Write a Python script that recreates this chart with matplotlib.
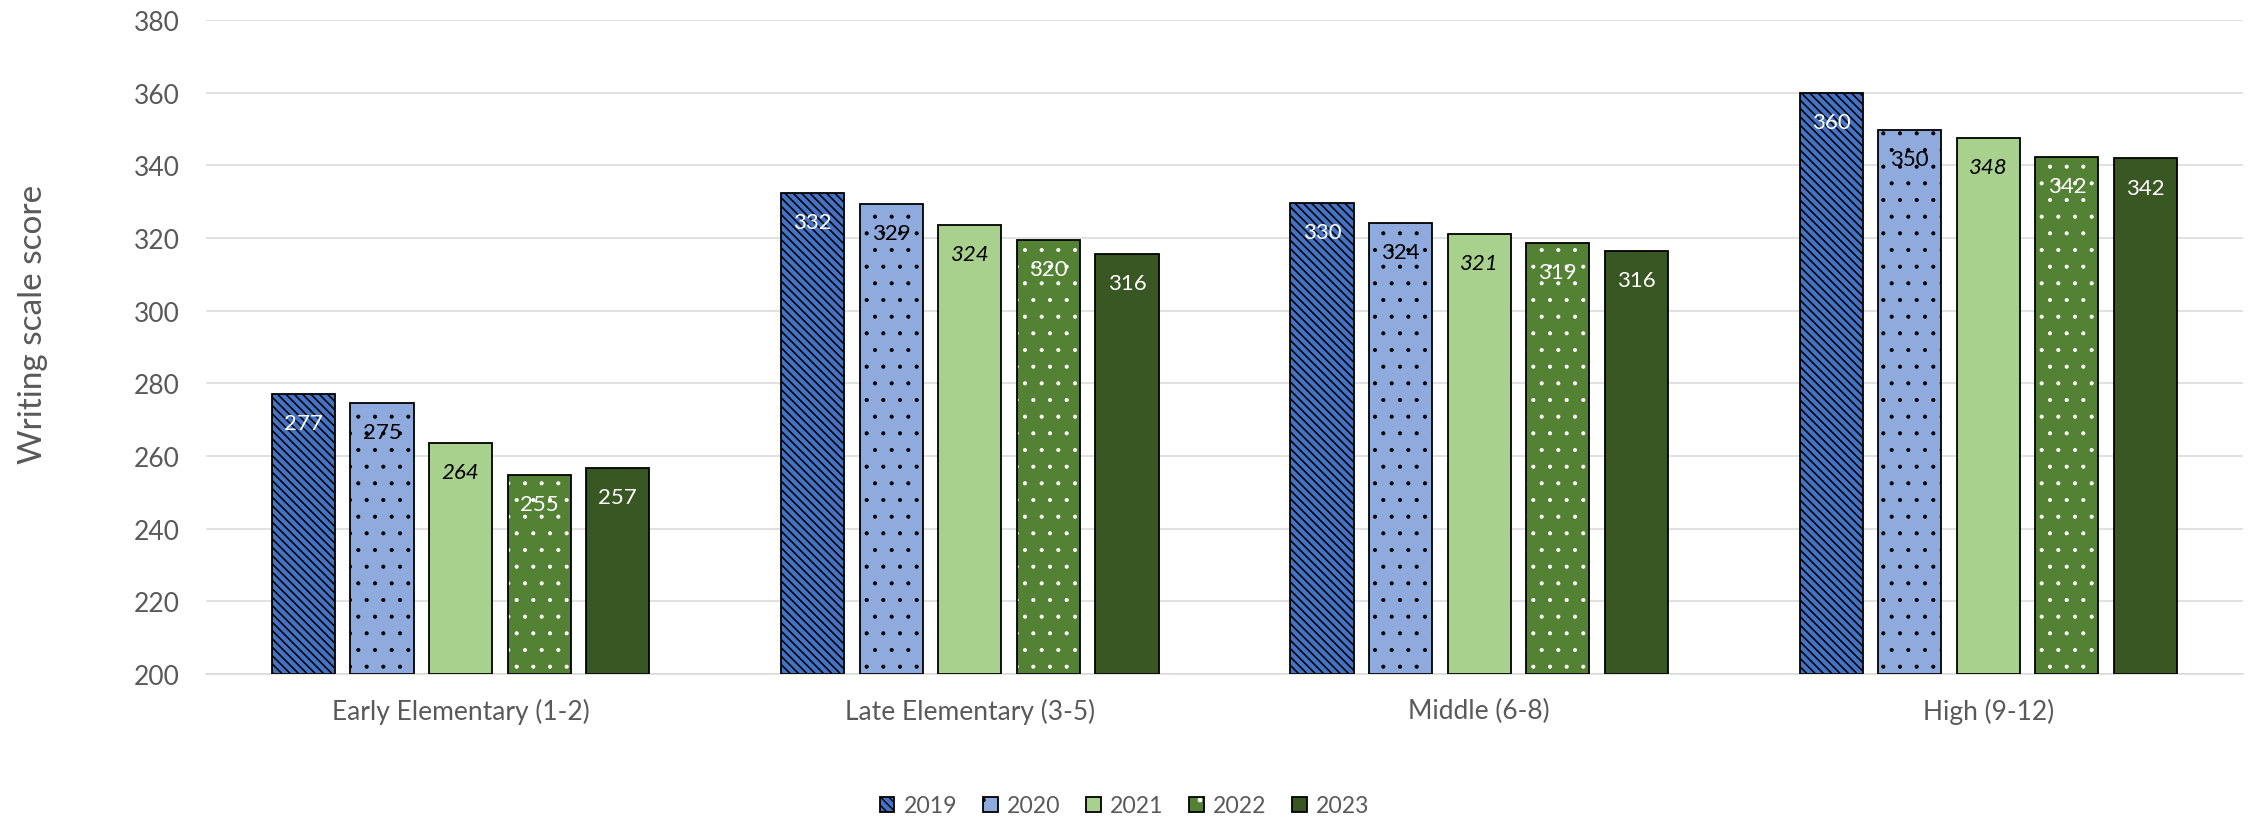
import matplotlib

matplotlib.use("Agg")
import matplotlib.pyplot as plt
from matplotlib.legend_handler import HandlerTuple
from matplotlib.patches import Patch
import numpy as np

plt.rcParams["font.family"] = ["Lato", "DejaVu Sans"]

GRADE_BANDS = [
    "Early Elementary (1-2)",
    "Late Elementary (3-5)",
    "Middle (6-8)",
    "High (9-12)",
]
YEARS = ["2019", "2020", "2021", "2022", "2023"]

# mean writing scale score per grade band, one list per year
SCORES = {
    "2019": [277.2, 332.3, 329.6, 360.0],
    "2020": [274.7, 329.4, 324.2, 349.7],
    "2021": [263.6, 323.7, 321.1, 347.6],
    "2022": [254.8, 319.5, 318.6, 342.3],
    "2023": [256.7, 315.6, 316.4, 341.9],
}

FILL = {
    "2019": "#4472C4",
    "2020": "#8FAADC",
    "2021": "#A9D18E",
    "2022": "#548235",
    "2023": "#385723",
}
HATCH = {"2019": "\\\\\\\\", "2020": ".", "2021": None, "2022": ".", "2023": None}
HATCH_COLOR = {"2019": "black", "2020": "black", "2022": "white"}
# stripes are drawn heavy, dots light
HATCH_LW = {"2019": 1.15, "2020": 0.5, "2022": 0.5}
LABEL_COLOR = {"2019": "white", "2020": "black", "2021": "black", "2022": "white", "2023": "white"}
LABEL_STYLE = {"2021": "italic"}

TEXT = "#595959"
GRID = "#D9D9D9"
EDGE = "black"

fig = plt.figure(figsize=(22.49, 8.2), dpi=100)
ax = fig.add_axes([0.0916, 0.1768, 0.9057, 0.7976])

x = np.arange(len(GRADE_BANDS))
width = 0.124
pitch = 0.1543

handles = []
for i, yr in enumerate(YEARS):
    xs = x + (i - 2) * pitch
    vals = SCORES[yr]
    hatch = HATCH[yr]
    hc = HATCH_COLOR.get(yr, EDGE)
    with plt.rc_context({"hatch.linewidth": HATCH_LW.get(yr, 1.0)}):
        # fill + hatch first (hatch takes the edge colour), then a black outline on top
        ax.bar(xs, np.array(vals) - 200, bottom=200, width=width, color=FILL[yr],
               hatch=hatch, edgecolor=hc, linewidth=0, zorder=2)
        inner = Patch(facecolor=FILL[yr], hatch=hatch, edgecolor=hc, linewidth=0)
    ax.bar(xs, np.array(vals) - 200, bottom=200, width=width, fill=False,
           edgecolor=EDGE, linewidth=1.3, zorder=3)
    for xi, v in zip(xs, vals):
        ax.annotate(f"{v:.0f}", (xi, v), xytext=(0, -21), textcoords="offset points",
                    ha="center", va="center", fontsize=16,
                    color=LABEL_COLOR[yr], style=LABEL_STYLE.get(yr, "normal"),
                    zorder=4)
    outline = Patch(fill=False, edgecolor=EDGE, linewidth=1.3)
    handles.append((inner, outline))

ax.set_ylim(200, 380)
ax.set_yticks(np.arange(200, 381, 20))
ax.set_xlim(-0.5, len(GRADE_BANDS) - 0.5)
ax.set_xticks(x)
ax.set_xticklabels(GRADE_BANDS)

ax.grid(axis="y", color=GRID, linewidth=1.1, zorder=0)
ax.set_axisbelow(True)
for side in ("left", "right", "top"):
    ax.spines[side].set_visible(False)
ax.spines["bottom"].set_color(GRID)
ax.spines["bottom"].set_linewidth(1.1)
ax.tick_params(axis="y", length=0, pad=19, labelsize=19, labelcolor=TEXT)
ax.tick_params(axis="x", length=0, pad=17, labelsize=19, labelcolor=TEXT)

fig.text(0.0147, 1 - 324 / 820, "Writing scale score", rotation=90,
         ha="center", va="center", fontsize=24, color=TEXT)

fig.legend(handles, YEARS, handler_map={tuple: HandlerTuple(ndivide=1)},
           loc="center", bbox_to_anchor=(0.5, 0.016), ncol=5, frameon=False,
           fontsize=16.6, labelcolor=TEXT, handlelength=0.65, handleheight=0.65,
           handletextpad=0.4, columnspacing=1.1)

fig.savefig("out.png", dpi=100, facecolor="white")
